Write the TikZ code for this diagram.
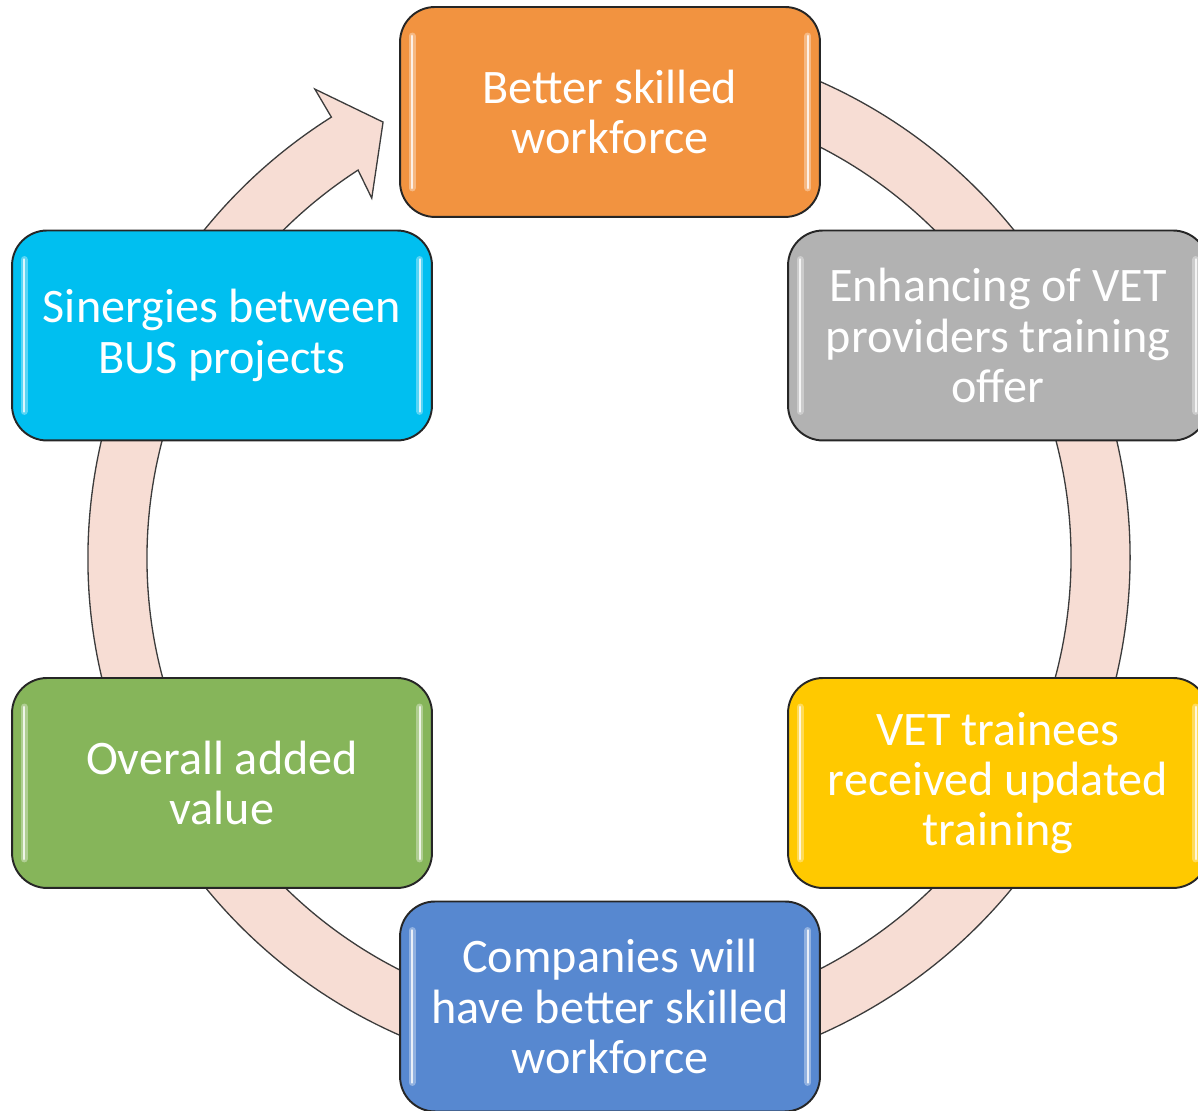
\documentclass[tikz,border=0pt]{standalone}
\usepackage{fontspec}
\setmainfont{Carlito}
\usetikzlibrary{calc}
\definecolor{ringfill}{HTML}{F7DDD4}
\definecolor{ringline}{HTML}{3C3C3C}
\definecolor{cOrange}{HTML}{F29340}
\definecolor{cGray}{HTML}{B2B2B2}
\definecolor{cYellow}{HTML}{FFC900}
\definecolor{cBlue}{HTML}{5788D0}
\definecolor{cGreen}{HTML}{86B55A}
\definecolor{cCyan}{HTML}{00BFF0}
\tikzset{
  box/.style={draw=black!85, line width=1.1pt, rounded corners=0.7cm,
    minimum width=8.4cm, minimum height=4.2cm, inner sep=0pt,
    text=white, align=center, font=\fontsize{27.4}{28.6}\selectfont},
  glow/.style={white, opacity=0.35, line width=4pt, line cap=round},
  gloss/.style={white, opacity=0.8, line width=1.6pt, line cap=round},
  ring/.style={fill=ringfill, draw=ringline, line width=0.75pt, line join=miter}
}
\newcommand{\glossy}[1]{%
  \draw[glow] ($(#1.north west)+(13,-30)$) -- ($(#1.south west)+(13,30)$);
  \draw[glow] ($(#1.north east)+(-13,-30)$) -- ($(#1.south east)+(-13,30)$);
  \draw[gloss] ($(#1.north west)+(13,-30)$) -- ($(#1.south west)+(13,30)$);
  \draw[gloss] ($(#1.north east)+(-13,-30)$) -- ($(#1.south east)+(-13,30)$);
}
\begin{document}
\begin{tikzpicture}[x=0.02cm, y=0.02cm]
\useasboundingbox (0,0) rectangle (1198,1111);
\clip (0,0) rectangle (1198,1111);
% ring with arrow head
\begin{scope}[shift={(609,553)}]
\draw[ring] (80:521) arc[start angle=80, end angle=-237.8, radius=521]
  -- (-237.9:553.5) -- (-242.6:491) -- (-236.6:431) -- (-237.1:462)
  arc[start angle=-237.1, end angle=80, radius=462] -- cycle;
\end{scope}
% boxes
\node[box, fill=cOrange] (a) at (610,999) {Better skilled\\workforce};
\node[box, fill=cGray] (b) at (998,775.5) {Enhancing of VET\\providers training\\offer};
\node[box, fill=cYellow] (c) at (998,328) {VET trainees\\received updated\\training};
\node[box, fill=cBlue] (d) at (610,104.5) {Companies will\\have better skilled\\workforce};
\node[box, fill=cGreen] (e) at (222,328) {Overall added\\value};
\node[box, fill=cCyan] (f) at (222,775.5) {Sinergies between\\BUS projects};
\glossy{a}\glossy{b}\glossy{c}\glossy{d}\glossy{e}\glossy{f}
\end{tikzpicture}
\end{document}
